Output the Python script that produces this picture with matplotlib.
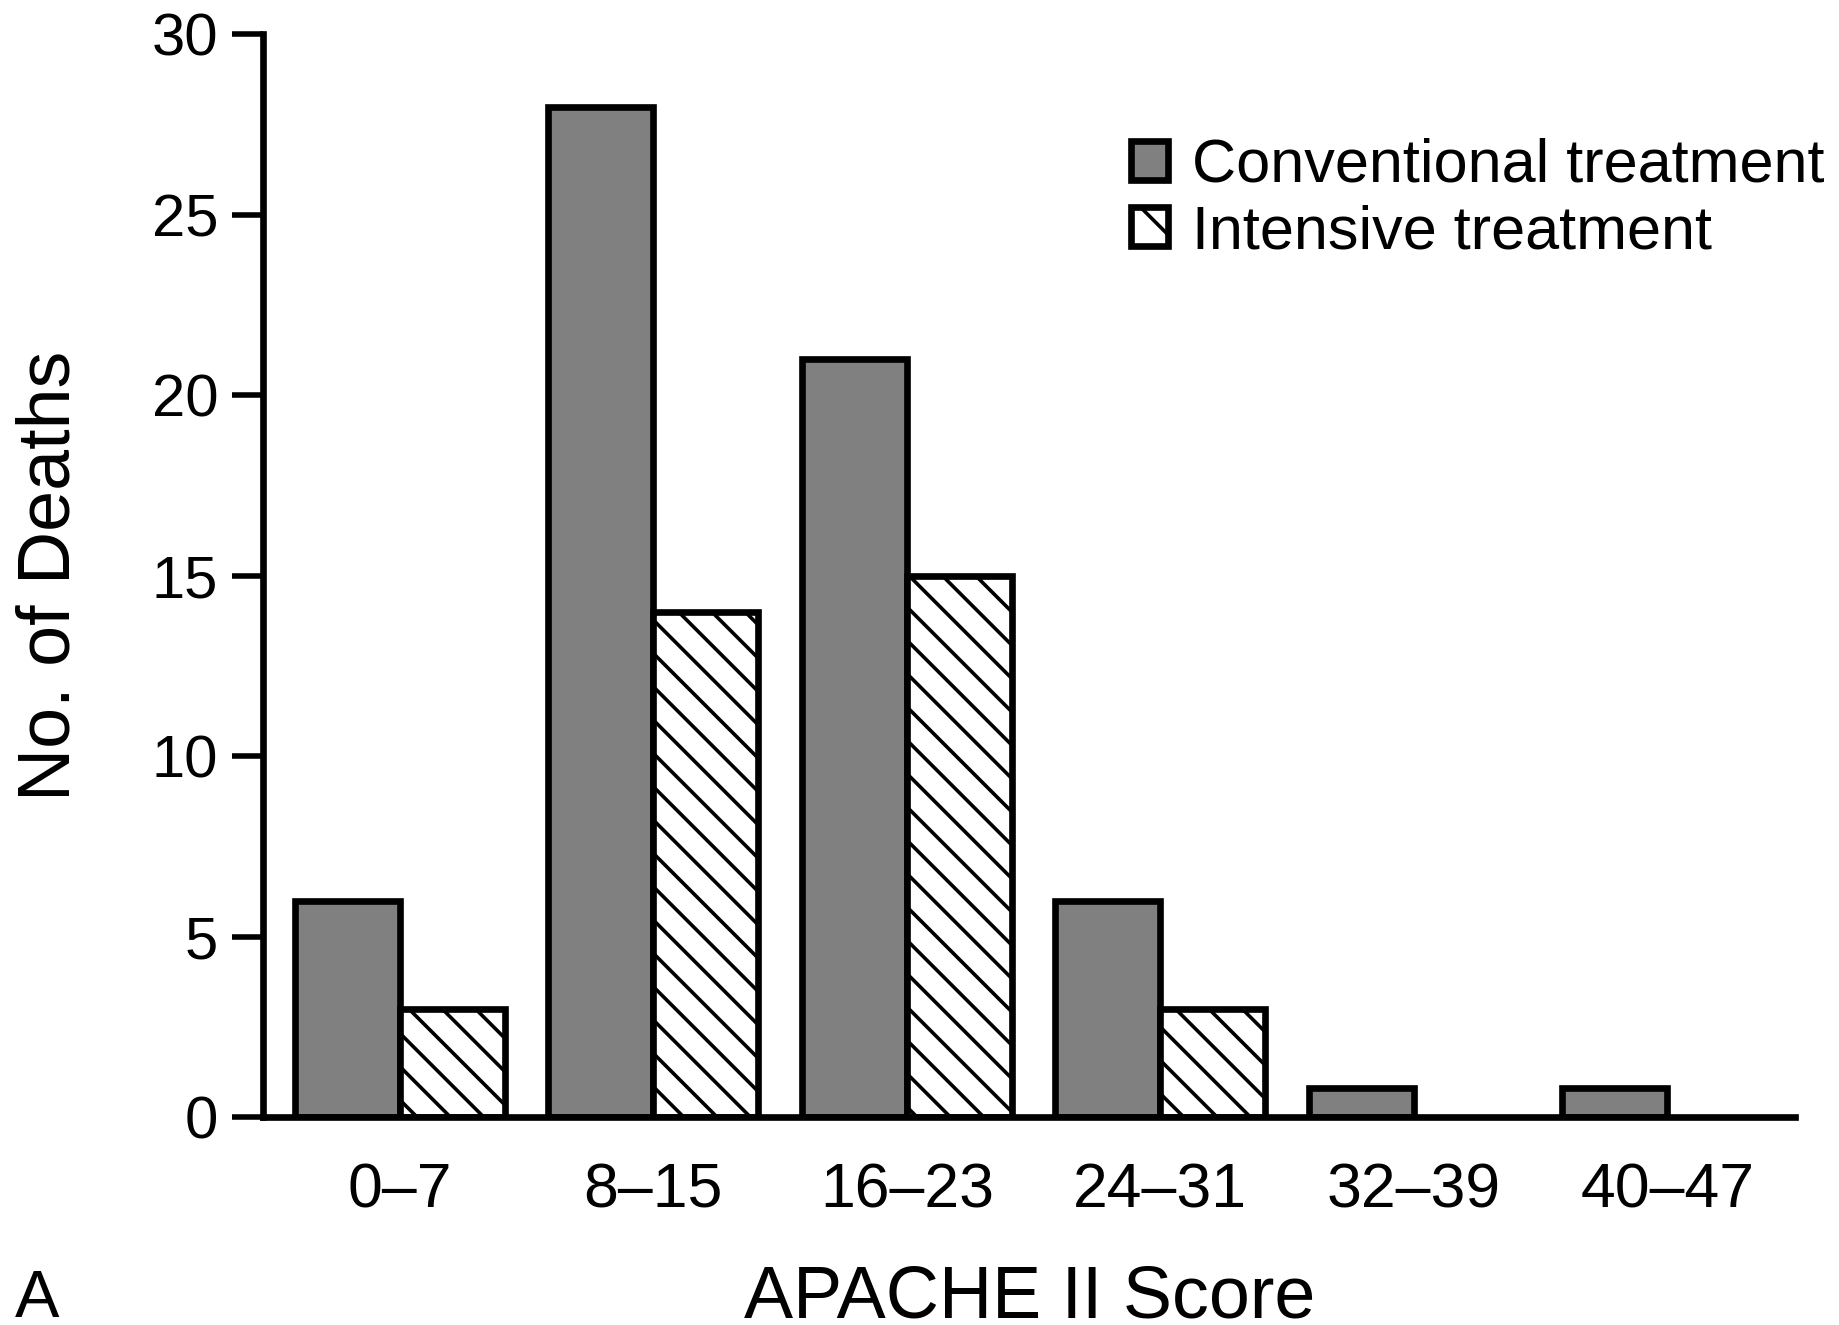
import matplotlib
matplotlib.use('Agg')
import numpy as np
import matplotlib.pyplot as plt
from matplotlib.patches import Patch

# data
score_bins = ['0–7', '8–15', '16–23', '24–31', '32–39', '40–47']
conventional = [6, 28, 21, 6, 0.8, 0.8]
intensive = [3, 14, 15, 3, 0, 0]

plt.rcParams['font.family'] = ['Liberation Sans', 'DejaVu Sans']
plt.rcParams['hatch.linewidth'] = 1.3

fig = plt.figure(figsize=(9.195, 6.625), dpi=200)
ax = fig.add_axes([0.1432, 0.1568, 0.9761 - 0.1432, 0.9741 - 0.1568])

x = np.arange(len(score_bins))
width = 0.415
lw = 2.4

ax.bar(x - width/2, conventional, width, color='#808080', edgecolor='black', linewidth=lw)
hb = ax.bar(x + width/2, intensive, width, color='white', edgecolor='black', linewidth=lw, hatch='\\\\')
# zero-height bars should not leave a line
for b, v in zip(hb, intensive):
    if v == 0:
        b.set_visible(False)

ax.set_xlim(-0.538, 5.504)
ax.set_ylim(0, 30)
ax.set_yticks([0, 5, 10, 15, 20, 25, 30])
ax.set_xticks(x)
ax.set_xticklabels(score_bins)

for s in ['top', 'right']:
    ax.spines[s].set_visible(False)
for s in ['left', 'bottom']:
    ax.spines[s].set_linewidth(lw)
    ax.spines[s].set_capstyle('projecting')

ax.tick_params(axis='y', length=11.2, width=2.0, pad=5, labelsize=21.5)
ax.tick_params(axis='x', length=0, pad=16, labelsize=22.5)

ax.set_xlabel('APACHE II Score', fontsize=26.5)
ax.xaxis.label.set_va('top')
ax.xaxis.set_label_coords(0.5, -0.135)
ax.set_ylabel('No. of Deaths', fontsize=26.5)
ax.yaxis.label.set_va('center')
ax.yaxis.set_label_coords(-0.139, 0.5)

fig.text(15/1839, 1 - 1317/1325, 'A', fontsize=24, ha='left', va='baseline')

handles = [Patch(facecolor='#808080', edgecolor='black', linewidth=lw),
           Patch(facecolor='white', edgecolor='black', linewidth=lw, hatch='\\')]
ax.legend(handles, ['Conventional treatment', 'Intensive treatment'],
          loc='upper left', bbox_to_anchor=(1131/1839, 1 - 138/1325),
          bbox_transform=fig.transFigure, frameon=False, fontsize=22,
          handlelength=0.6, handleheight=0.6, handletextpad=0.4,
          labelspacing=0.15, borderpad=0, borderaxespad=0)

fig.savefig('out.png', dpi=200)
